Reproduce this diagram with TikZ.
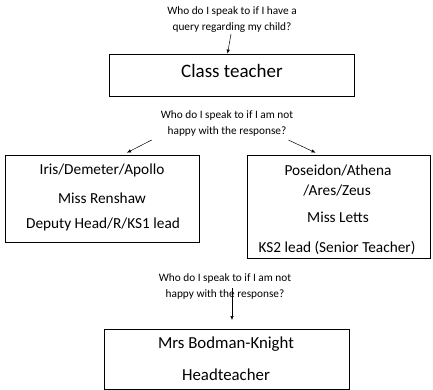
\documentclass[tikz,border=0pt]{standalone}
\usepackage{fontspec}
\setmainfont{Carlito}
\usetikzlibrary{arrows.meta}

\begin{document}
\begin{tikzpicture}[x=1pt,y=-1pt,
        box/.style={draw, line width=0.7pt, inner sep=0pt},
        ask/.style={font=\fontsize{11.3}{16}\selectfont, align=center, inner sep=1pt},
        who/.style={font=\fontsize{15.3}{18}\selectfont, inner sep=0pt},
        arr/.style={-{Latex[length=4pt,width=3.5pt]}, line width=0.5pt}]
        \useasboundingbox (0,0) rectangle (433,390);
        % first question
        \node[ask] (qone) at (232,20) {Who do I speak to if I have a\\query regarding my child?};
        \node[box, minimum width=245, minimum height=42] (ct) at (231.5,75) {};
        \node[font=\fontsize{19}{22}\selectfont, inner sep=0pt] (ctname) at (232,71) {Class teacher};
        \draw[arr] ([xshift=-1]qone.south) -- ([xshift=-4]ct.north);
        % second question
        \node[ask] (qtwo) at (227,123) {Who do I speak to if I am not\\happy with the response?};
        \node[box, minimum width=194, minimum height=87] (lb) at (102,198.5) {};
        \node[box, minimum width=183, minimum height=103] (rb) at (338.5,206.5) {};
        \draw[arr] ([xshift=-8,yshift=-3]qtwo.south west) -- ([xshift=25,yshift=2]lb.north);
        \draw[arr] ([xshift=-6,yshift=-3]qtwo.south east) -- ([xshift=-23,yshift=2]rb.north);
        \node[who] (lone) at (102,170) {Iris/Demeter/Apollo};
        \node[who] (ltwo) at (102,198) {Miss Renshaw};
        \node[who] (lthree) at (103,224) {Deputy Head/R/KS1 lead};
        \node[who] (rone) at (338,171) {Poseidon/Athena};
        \node[who] (rtwo) at (337,191) {/Ares/Zeus};
        \node[who] (rthree) at (338,217) {Miss Letts};
        \node[who] (rfour) at (337,248) {KS2 lead (Senior Teacher)};
        % third question
        \node[ask] (qthree) at (225,286) {Who do I speak to if I am not\\happy with the response?};
        \coordinate (qtail) at (232,288);
        \node[box, minimum width=245, minimum height=60] (hb) at (226.5,359) {};
        \draw[arr] (qtail) -- (qtail |- 0,320);
        \node[who, font=\fontsize{16.8}{19}\selectfont] (hone) at (226,344) {Mrs Bodman-Knight};
        \node[who, font=\fontsize{16.8}{19}\selectfont] (htwo) at (226,375) {Headteacher};
\end{tikzpicture}
\end{document}
